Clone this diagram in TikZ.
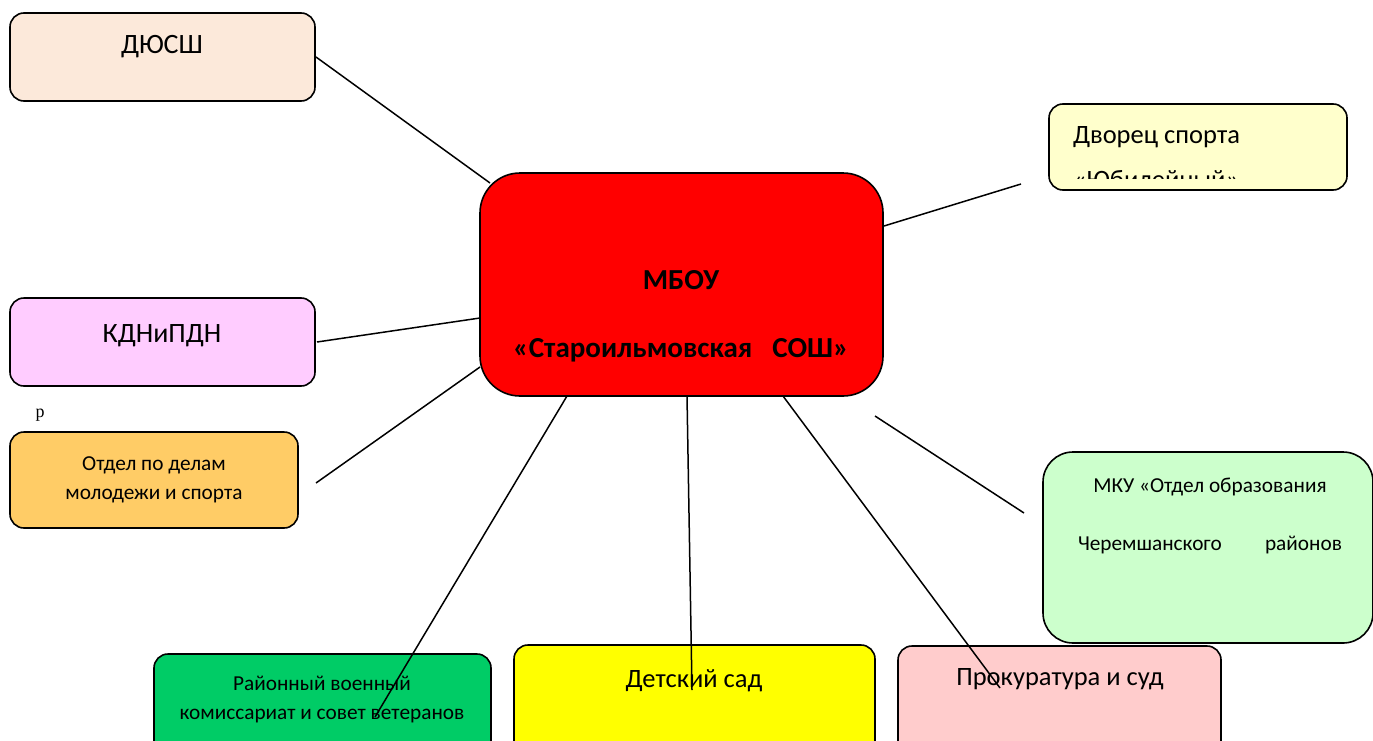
\documentclass[tikz,border=0pt]{standalone}
\usepackage{fontspec}
\setmainfont{Carlito}
\newfontfamily\serifp{Liberation Serif}
\begin{document}
\begin{tikzpicture}[x=1bp,y=-1bp,
  box/.style={draw=black,line width=1.6bp,rounded corners=#1,inner sep=0,outer sep=0,anchor=north west},
  box/.default=14bp,
  txt/.style={inner sep=0,outer sep=0,anchor=base,font=\fontsize{26.5bp}{31bp}\selectfont},
  ltxt/.style={inner sep=0,outer sep=0,anchor=base,font=\fontsize{28bp}{33bp}\selectfont},
  stxt/.style={inner sep=0,outer sep=0,anchor=base,font=\fontsize{21.3bp}{25bp}\selectfont},
  btxt/.style={inner sep=0,outer sep=0,anchor=base,font=\fontsize{29bp}{34bp}\selectfont\bfseries},
  link/.style={draw=black,line width=1.5bp}]
\definecolor{cPeach}{HTML}{FCE9DA}
\definecolor{cPink}{HTML}{FFCCFF}
\definecolor{cOrange}{HTML}{FFCC66}
\definecolor{cCream}{HTML}{FFFFCC}
\definecolor{cMint}{HTML}{CCFFCC}
\definecolor{cGreen}{HTML}{00CC66}
\definecolor{cYellow}{HTML}{FFFF00}
\definecolor{cRose}{HTML}{FFCCCC}
\definecolor{cRed}{HTML}{FF0000}
\useasboundingbox (0,0) rectangle (1373,740);
\clip (0,0) rectangle (1373,740);
% boxes
\node[box, fill=cPeach, minimum width=305bp, minimum height=88bp] (dyussh) at (10,13) {};
\node[box=40bp, fill=cRed, minimum width=403bp, minimum height=223bp] (school) at (480,173) {};
\node[box, fill=cCream, minimum width=298bp, minimum height=86bp] (palace) at (1049,104) {};
\node[box, fill=cPink, minimum width=305bp, minimum height=88bp] (kdn) at (10,298) {};
\node[box, fill=cOrange, minimum width=288bp, minimum height=96bp] (youth) at (10,432) {};
\node[box=30bp, fill=cMint, minimum width=330bp, minimum height=191bp] (mku) at (1043,452) {};
\node[box, fill=cGreen, minimum width=337bp, minimum height=110bp] (military) at (154,654) {};
\node[box, fill=cYellow, minimum width=361bp, minimum height=110bp] (kinder) at (514,645) {};
\node[box, fill=cRose, minimum width=323bp, minimum height=110bp] (court) at (898,646) {};
% texts
\node[ltxt] (t1) at (162,54) {ДЮСШ};
\begin{scope}
\clip (1049,104) rectangle (1347,178);
\node[txt,anchor=base west] (t2a) at (1073,143) {Дворец спорта};
\node[txt,anchor=base west] (t2b) at (1073,188) {«Юбилейный»};
\end{scope}
\node[ltxt] (t3) at (162,342) {КДНиПДН};
\node[inner sep=0,anchor=base,font=\serifp\fontsize{18bp}{20bp}\selectfont] (t4) at (40,417) {р};
\node[stxt] (t5a) at (154,470) {Отдел по делам};
\node[stxt] (t5b) at (154,499) {молодежи и спорта};
\node[btxt] (t6a) at (681,289) {МБОУ};
\node[btxt] (t6b) at (681,357) {«Староильмовская\hspace{20bp}СОШ»};
\node[stxt] (t7a) at (1210,492) {МКУ «Отдел образования};
\node[stxt,anchor=base west] (t7b) at (1078,550) {Черемшанского};
\node[stxt,anchor=base east] (t7c) at (1342,550) {районов};
\node[stxt] (t8a) at (322,690) {Районный военный};
\node[stxt] (t8b) at (322,719) {комиссариат и совет ветеранов};
\node[txt] (t9) at (694,687) {Детский сад};
\node[txt] (t10) at (1060,685) {Прокуратура и суд};
% connector ends
\coordinate (a1) at (316,57);   \coordinate (b1) at (490,183);
\coordinate (a2) at (1021,184); \coordinate (b2) at (884,226);
\coordinate (a3) at (317,342);  \coordinate (b3) at (480,318);
\coordinate (a4) at (316,483);  \coordinate (b4) at (480,367);
\coordinate (a5) at (1024,513); \coordinate (b5) at (875,416);
\coordinate (a6) at (375,717);  \coordinate (b6) at (567,396);
\coordinate (a7) at (692,690);  \coordinate (b7) at (687,396);
\coordinate (a8) at (1000,688); \coordinate (b8) at (783,396);
\foreach \i in {1,...,8} { \draw[link] (a\i) -- (b\i); }
\end{tikzpicture}
\end{document}
